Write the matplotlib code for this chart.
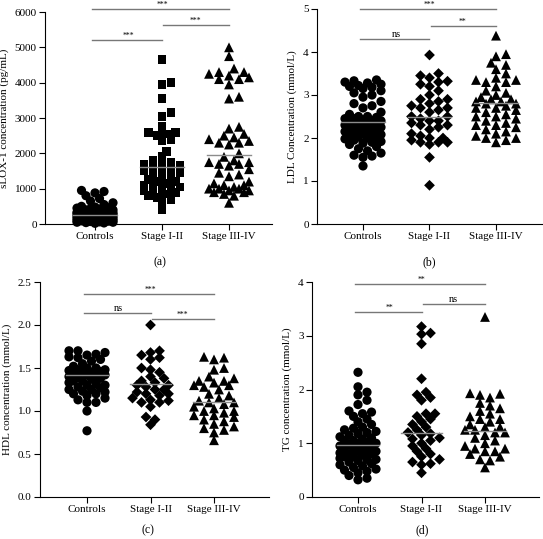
import numpy as np
import matplotlib
matplotlib.use('Agg')
import matplotlib.pyplot as plt

plt.rcParams['font.family'] = ['Liberation Serif', 'DejaVu Serif']

groups = ['Controls', 'Stage I-II', 'Stage III-IV']

# (a) sLOX-1 (pg/mL)
a_ctrl = [950, 920, 880, 800, 720, 650, 600, 550, 500, 480, 460, 450, 430, 420, 400, 400,
          380, 360, 350, 340, 330, 320, 310, 300, 300, 290, 280, 270, 260, 250, 250, 240,
          230, 220, 210, 200, 200, 190, 180, 170, 160, 150, 150, 140, 130, 120, 110, 100,
          100, 90, 80, 70, 60, 50, 50, 40, 30, 20]
a_s12 = [4650, 4000, 3950, 3550, 3150, 3050, 2750, 2600, 2600, 2550, 2500, 2400, 2350,
         2050, 1900, 1800, 1750, 1700, 1700, 1650, 1600, 1550, 1500, 1500, 1450, 1400,
         1350, 1300, 1250, 1200, 1200, 1150, 1100, 1100, 1050, 1000, 1000, 950, 900, 900,
         850, 800, 750, 700, 600, 400]
a_s34 = [5000, 4750, 4400, 4300, 4300, 4250, 4200, 4150, 4100, 4100, 3950, 3600, 3550,
         2750, 2700, 2550, 2500, 2450, 2400, 2350, 2300, 2300, 2250, 2000, 1900, 1800,
         1750, 1750, 1700, 1700, 1650, 1550, 1450, 1400, 1350, 1200, 1150, 1100, 1100,
         1050, 1000, 1000, 1000, 950, 950, 900, 900, 850, 800, 600]
a_mean = [250, 1600, 1950]

# (b) LDL (mmol/L)
b_ctrl = [3.35, 3.33, 3.3, 3.28, 3.25, 3.22, 3.2, 3.18, 3.15, 3.1, 3.05, 3.0, 2.95, 2.85,
          2.8, 2.75, 2.7, 2.6, 2.55, 2.5, 2.5, 2.48, 2.45, 2.45, 2.42, 2.4, 2.4, 2.38, 2.35,
          2.35, 2.32, 2.3, 2.3, 2.28, 2.25, 2.25, 2.22, 2.2, 2.2, 2.18, 2.15, 2.12, 2.1, 2.1,
          2.08, 2.05, 2.02, 2.0, 2.0, 1.98, 1.95, 1.92, 1.9, 1.88, 1.85, 1.8, 1.75, 1.7,
          1.65, 1.6, 1.58, 1.55, 1.35]
b_s12 = [3.93, 3.5, 3.45, 3.4, 3.32, 3.3, 3.25, 3.2, 3.1, 3.0, 2.9, 2.9, 2.85, 2.8, 2.75,
         2.7, 2.7, 2.65, 2.6, 2.5, 2.5, 2.45, 2.4, 2.4, 2.35, 2.3, 2.3, 2.25, 2.2, 2.1, 2.05,
         2.0, 2.0, 1.95, 1.9, 1.9, 1.9, 1.85, 1.55, 0.9]
b_s34 = [4.38, 3.95, 3.9, 3.75, 3.7, 3.6, 3.5, 3.4, 3.35, 3.35, 3.3, 3.3, 3.2, 3.1, 3.05,
         3.0, 2.95, 2.9, 2.9, 2.85, 2.85, 2.8, 2.8, 2.75, 2.7, 2.7, 2.65, 2.6, 2.55, 2.5,
         2.5, 2.45, 2.4, 2.35, 2.3, 2.3, 2.25, 2.2, 2.15, 2.1, 2.05, 2.0, 2.0, 1.95, 1.9]
b_mean = [2.37, 2.5, 2.82]

# (c) HDL (mmol/L)
c_ctrl = [1.7, 1.7, 1.68, 1.66, 1.65, 1.63, 1.62, 1.6, 1.58, 1.55, 1.52, 1.5, 1.5, 1.48,
          1.48, 1.47, 1.46, 1.45, 1.45, 1.44, 1.43, 1.42, 1.42, 1.4, 1.4, 1.38, 1.37, 1.35,
          1.35, 1.33, 1.32, 1.3, 1.3, 1.28, 1.27, 1.25, 1.25, 1.23, 1.22, 1.2, 1.2, 1.18,
          1.15, 1.13, 1.1, 1.1, 1.0, 0.77]
c_s12 = [2.0, 1.7, 1.68, 1.65, 1.62, 1.6, 1.5, 1.48, 1.45, 1.4, 1.38, 1.35, 1.33, 1.3,
         1.3, 1.28, 1.25, 1.25, 1.22, 1.2, 1.2, 1.18, 1.15, 1.13, 1.12, 1.1, 1.1, 1.05,
         0.93, 0.9, 0.84]
c_s34 = [1.63, 1.62, 1.6, 1.5, 1.48, 1.4, 1.38, 1.35, 1.35, 1.33, 1.3, 1.3, 1.28, 1.25,
         1.2, 1.18, 1.15, 1.12, 1.1, 1.1, 1.08, 1.05, 1.03, 1.0, 1.0, 0.98, 0.95, 0.95,
         0.93, 0.9, 0.88, 0.85, 0.82, 0.8, 0.78, 0.75, 0.66]
c_mean = [1.42, 1.31, 1.1]

# (d) TG (mmol/L)
d_ctrl = [2.32, 2.05, 1.95, 1.9, 1.8, 1.72, 1.6, 1.58, 1.55, 1.5, 1.45, 1.4, 1.35, 1.3,
          1.28, 1.25, 1.22, 1.2, 1.18, 1.15, 1.12, 1.1, 1.08, 1.05, 1.05, 1.02, 1.0, 1.0,
          0.98, 0.95, 0.95, 0.92, 0.9, 0.9, 0.88, 0.85, 0.85, 0.82, 0.8, 0.8, 0.78, 0.75,
          0.75, 0.72, 0.7, 0.7, 0.68, 0.65, 0.62, 0.6, 0.58, 0.55, 0.52, 0.5, 0.48, 0.45,
          0.4, 0.35, 0.32]
d_s12 = [3.17, 3.05, 3.03, 2.85, 2.2, 1.95, 1.9, 1.85, 1.8, 1.55, 1.55, 1.5, 1.45, 1.4,
         1.35, 1.3, 1.25, 1.2, 1.18, 1.15, 1.1, 1.08, 1.05, 1.0, 0.95, 0.9, 0.85, 0.8,
         0.75, 0.7, 0.65, 0.62, 0.6, 0.45]
d_s34 = [3.35, 1.93, 1.92, 1.9, 1.85, 1.75, 1.7, 1.65, 1.6, 1.55, 1.5, 1.45, 1.45, 1.4,
         1.35, 1.3, 1.3, 1.25, 1.25, 1.2, 1.2, 1.15, 1.1, 1.05, 1.0, 0.95, 0.9, 0.9, 0.85,
         0.85, 0.8, 0.75, 0.7, 0.68, 0.55]
d_mean = [0.97, 1.2, 1.22]


def swarm(vals, units_per_px, px_per_cat, size_px, max_px):
    # simple beeswarm: place each point at the nearest free horizontal slot
    v = np.asarray(vals, dtype=float)
    order = np.argsort(v)
    placed = []
    xs = np.zeros(len(v))
    step = size_px * 0.5
    for i in order:
        y = v[i] / units_per_px
        best, best_cost = 0.0, None
        for k in range(0, 40):
            for sgn in ([1] if k == 0 else [1, -1]):
                x = sgn * k * step
                if abs(x) > max_px:
                    continue
                d = [np.hypot(x - px, y - py) for px, py in placed]
                cost = sum(max(0, size_px * 0.75 - dd) for dd in d)
                if cost == 0:
                    best, best_cost = x, 0
                    break
                if best_cost is None or cost < best_cost:
                    best, best_cost = x, cost
            if best_cost == 0:
                break
        placed.append((best, y))
        xs[i] = best / px_per_cat
    return xs


fig = plt.figure(figsize=(5.43, 5.39), dpi=100)
W, H = 543, 539

panels = [
    dict(box=(45, 272, 224, 12), cats=(95, 162, 229), ylim=(0, 6000),
         yticks=[0, 1000, 2000, 3000, 4000, 5000, 6000], yfmt='{:.0f}',
         ylabel='sLOX-1 concentration (pg/mL)', data=[a_ctrl, a_s12, a_s34],
         mean=a_mean, markers=['o', 's', '^'], label='(a)', lab_xy=(160, 262),
         sig=[(0, 1, 5208, '***'), (1, 2, 5632, '***'), (0, 2, 6080, '***')]),
    dict(box=(317, 542, 224, 9), cats=(363, 430, 496), ylim=(0, 5),
         yticks=[0, 1, 2, 3, 4, 5], yfmt='{:.0f}',
         ylabel='LDL Concentration (mmol/L)', data=[b_ctrl, b_s12, b_s34],
         mean=b_mean, markers=['o', 'D', '^'], label='(b)', lab_xy=(429, 262),
         sig=[(0, 1, 4.30, 'ns'), (1, 2, 4.61, '**'), (0, 2, 5.0, '***')]),
    dict(box=(40, 269, 497, 282), cats=(87, 151, 214), ylim=(0, 2.5),
         yticks=[0, 0.5, 1.0, 1.5, 2.0, 2.5], yfmt='{:.1f}',
         ylabel='HDL concentration (mmol/L)', data=[c_ctrl, c_s12, c_s34],
         mean=c_mean, markers=['o', 'D', '^'], label='(c)', lab_xy=(148, 530),
         sig=[(0, 1, 2.143, 'ns'), (1, 2, 2.073, '***'), (0, 2, 2.364, '***')]),
    dict(box=(312, 539, 497, 282), cats=(358, 421, 485), ylim=(0, 4),
         yticks=[0, 1, 2, 3, 4], yfmt='{:.0f}',
         ylabel='TG concentration (mmol/L)', data=[d_ctrl, d_s12, d_s34],
         mean=d_mean, markers=['o', 'D', '^'], label='(d)', lab_xy=(422, 530),
         sig=[(0, 1, 3.436, '**'), (1, 2, 3.597, 'ns'), (0, 2, 3.957, '**')]),
]

msizes = {'o': 44, 's': 40, 'D': 30, '^': 50}
mpx = {'o': 9, 's': 9, 'D': 9, '^': 10}

for p in panels:
    x0, x1, yb, yt = p['box']
    ax = fig.add_axes([x0 / W, 1 - yb / H, (x1 - x0) / W, (yb - yt) / H])
    c0, c1, c2 = p['cats']
    spc = (c2 - c0) / 2
    ax.set_xlim((x0 - c0) / spc, (x1 - c0) / spc)
    ax.set_ylim(*p['ylim'])
    units_per_px = (p['ylim'][1] - p['ylim'][0]) / (yb - yt)
    for i, vals in enumerate(p['data']):
        m = p['markers'][i]
        off = swarm(vals, units_per_px, spc, mpx[m], 21)
        ax.scatter(i + off, vals, marker=m, s=msizes[m], c='black',
                   edgecolors='none', zorder=2, clip_on=False)
        ax.plot([i - 0.33, i + 0.33], [p['mean'][i]] * 2, color='#8c8c8c',
                lw=1.0, zorder=3)
    for g0, g1, yv, txt in p['sig']:
        ax.plot([g0 - 0.05 if g0 == 0 else g0 + 0.02, g1],
                [yv, yv], color='#777777', lw=1.0, clip_on=False)
        ax.text((g0 + g1) / 2, yv, txt, ha='center', va='bottom',
                fontsize=5.5 if '*' in txt else 7.5, clip_on=False)
    ax.set_xticks([0, 1, 2])
    ax.set_xticklabels(groups, fontsize=8)
    ax.set_yticks(p['yticks'])
    ax.set_yticklabels([p['yfmt'].format(t) for t in p['yticks']], fontsize=8)
    ax.set_ylabel(p['ylabel'], fontsize=8, labelpad=4)
    for s in ['top', 'right']:
        ax.spines[s].set_visible(False)
    for s in ['left', 'bottom']:
        ax.spines[s].set_linewidth(0.8)
    ax.tick_params(direction='out', length=4, width=0.8, pad=2)
    fig.text(p['lab_xy'][0] / W, 1 - p['lab_xy'][1] / H, p['label'],
             ha='center', va='center', fontsize=8.5)

fig.savefig('out.png', dpi=100)
